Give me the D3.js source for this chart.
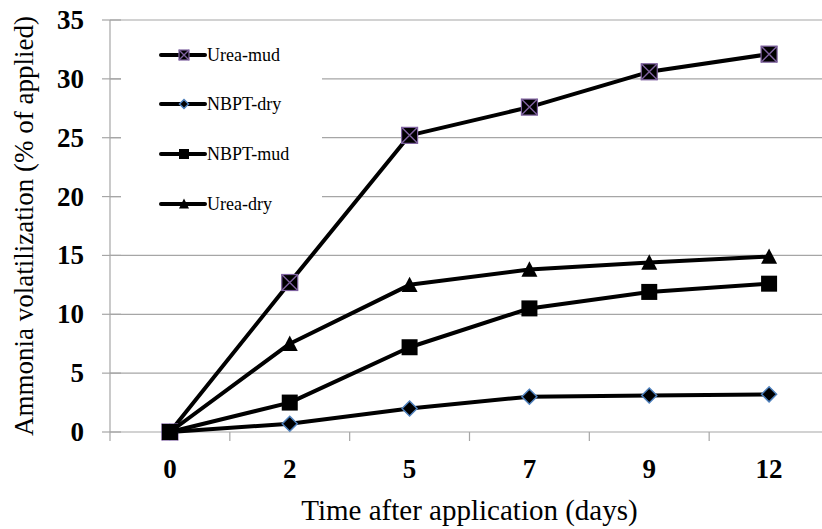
<!DOCTYPE html>
<meta charset="utf-8">
<title>Ammonia volatilization</title>
<style>
body { margin: 0; background: #fff; }
svg { display: block; font-family: "Liberation Serif", "Times New Roman", serif; }
.grid line { stroke: #a6a6a6; stroke-width: 1.2; }
.tick-lab { font-weight: bold; font-size: 27px; fill: #000; }
</style>
<body>
<div id="chart"></div>
</body>
<script src="https://cdn.jsdelivr.net/npm/d3@7"></script>
<script>

var days = ['0', '2', '5', '7', '9', '12'];
var ureaMud = [0, 12.7, 25.2, 27.6, 30.6, 32.1];
var nbptDry = [0, 0.7, 2.0, 3.0, 3.1, 3.2];
var nbptMud = [0, 2.5, 7.2, 10.5, 11.9, 12.6];
var ureaDry = [0, 7.5, 12.5, 13.8, 14.4, 14.9];
var yTicks = [0, 5, 10, 15, 20, 25, 30, 35];

var series = [
  {name: 'Urea-mud', values: ureaMud, marker: 'xsquare'},
  {name: 'NBPT-dry', values: nbptDry, marker: 'diamond'},
  {name: 'NBPT-mud', values: nbptMud, marker: 'square'},
  {name: 'Urea-dry', values: ureaDry, marker: 'triangle'}
];

var W = 822, H = 529,
    pL = 110, pR = 829, pT = 20, pB = 432;

var svg = d3.select('#chart').append('svg').attr('width', W).attr('height', H);

var x = d3.scaleBand().domain(days).range([pL, pR]);
var y = d3.scaleLinear().domain([0, 35]).range([pB, pT]);

// gridlines
svg.append('g').attr('class', 'grid')
  .selectAll('line').data(yTicks).join('line')
  .attr('x1', pL).attr('x2', pR)
  .attr('y1', d => y(d)).attr('y2', d => y(d));

// y axis line + cross ticks
svg.append('line').attr('x1', pL).attr('x2', pL).attr('y1', pT).attr('y2', pB)
  .attr('stroke', '#a6a6a6').attr('stroke-width', 1.2);
svg.append('g').selectAll('line').data(yTicks).join('line')
  .attr('x1', pL - 8).attr('x2', pL + 11)
  .attr('y1', d => y(d)).attr('y2', d => y(d))
  .attr('stroke', '#a6a6a6').attr('stroke-width', 1.2);

// x ticks between categories
var bounds = days.map(d => x(d)).concat([pR]);
svg.append('g').selectAll('line').data(bounds).join('line')
  .attr('x1', d => d).attr('x2', d => d)
  .attr('y1', pB).attr('y2', pB + 9)
  .attr('stroke', '#a6a6a6').attr('stroke-width', 1.2);

// tick labels
svg.append('g').selectAll('text').data(yTicks).join('text')
  .attr('class', 'tick-lab')
  .attr('x', 84).attr('y', d => y(d) + 9)
  .attr('text-anchor', 'end')
  .text(d => d);

svg.append('g').selectAll('text').data(days).join('text')
  .attr('class', 'tick-lab')
  .attr('x', d => x(d) + x.bandwidth() / 2).attr('y', 478)
  .attr('text-anchor', 'middle')
  .text(d => d);

// axis titles
svg.append('text')
  .attr('x', (pL + pR) / 2).attr('y', 520)
  .attr('text-anchor', 'middle')
  .style('font-size', '29px')
  .text('Time after application (days)');

svg.append('text')
  .attr('transform', 'translate(33,' + (pT + pB) / 2 + ') rotate(-90)')
  .attr('text-anchor', 'middle')
  .style('font-size', '27px')
  .text('Ammonia volatilization (% of applied)');

// legend box (hides gridlines behind it)
svg.append('rect').attr('x', 121).attr('y', 21).attr('width', 201).attr('height', 220)
  .attr('fill', '#fff');

function drawMarker(g, type, s) {
  if (type === 'square' || type === 'xsquare') {
    g.append('rect').attr('x', -s / 2).attr('y', -s / 2).attr('width', s).attr('height', s)
      .attr('fill', '#000')
      .attr('stroke', type === 'xsquare' ? '#7f62a0' : 'none').attr('stroke-width', 1.2);
    if (type === 'xsquare') {
      g.append('path')
        .attr('d', 'M' + (-s / 2) + ',' + (-s / 2) + 'L' + (s / 2) + ',' + (s / 2) +
                   'M' + (s / 2) + ',' + (-s / 2) + 'L' + (-s / 2) + ',' + (s / 2))
        .attr('stroke', '#7f62a0').attr('stroke-width', 1.4);
    }
  } else if (type === 'diamond') {
    var r = s / 2;
    g.append('path').attr('d', 'M0,' + (-r) + 'L' + r + ',0L0,' + r + 'L' + (-r) + ',0Z')
      .attr('fill', '#000').attr('stroke', '#4f81bd').attr('stroke-width', 1.5);
  } else if (type === 'triangle') {
    var h = s * 0.9;
    g.append('path').attr('d', 'M0,' + (-h / 2 - 1) + 'L' + (s / 2) + ',' + (h / 2) + 'L' + (-s / 2) + ',' + (h / 2) + 'Z')
      .attr('fill', '#000');
  }
}

var line = d3.line()
  .x((d, i) => x(days[i]) + x.bandwidth() / 2)
  .y(d => y(d));

series.forEach(function(s) {
  svg.append('path').datum(s.values)
    .attr('d', line)
    .attr('fill', 'none').attr('stroke', '#000').attr('stroke-width', 4)
    .attr('stroke-linejoin', 'round');
  var msize = s.marker === 'diamond' ? 15 : 16;
  s.values.forEach(function(v, i) {
    var g = svg.append('g')
      .attr('transform', 'translate(' + (x(days[i]) + x.bandwidth() / 2) + ',' + y(v) + ')');
    drawMarker(g, s.marker, msize);
  });
});

// legend
var legY = [55, 104, 154, 204];
series.forEach(function(s, i) {
  var g = svg.append('g').attr('transform', 'translate(0,' + legY[i] + ')');
  g.append('line').attr('x1', 161).attr('x2', 205).attr('y1', 0).attr('y2', 0)
    .attr('stroke', '#000').attr('stroke-width', 4).attr('stroke-linecap', 'round');
  var mg = g.append('g').attr('transform', 'translate(184,0)');
  drawMarker(mg, s.marker, s.marker === 'diamond' ? 9 : 10);
  g.append('text').attr('x', 207).attr('y', 6)
    .style('font-size', '18px')
    .text(s.name);
});

</script>
